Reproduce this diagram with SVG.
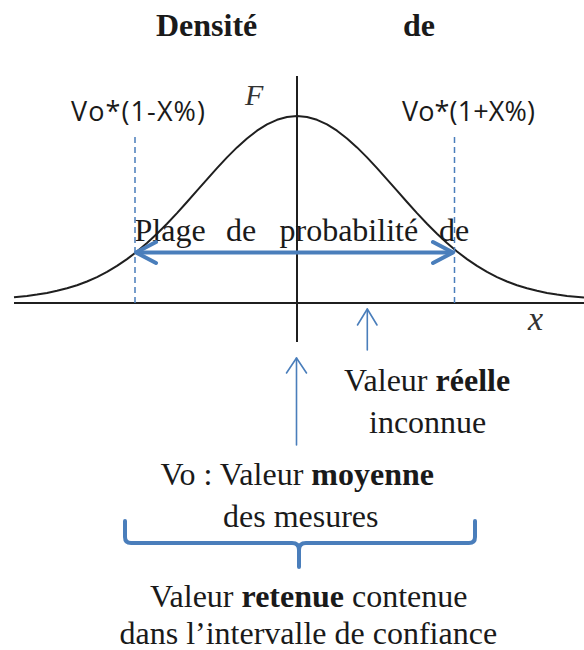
<svg xmlns="http://www.w3.org/2000/svg" width="584" height="650" viewBox="0 0 584 650">
<style>
.serif{font-family:"Liberation Serif","Times New Roman",serif;font-size:32px;fill:#1a1a1a}
.b{font-weight:bold}
.sans{font-family:"Open Sans","Liberation Sans",sans-serif;font-size:27px;fill:#1a1a1a}
.ax{stroke:#1f1f1f;stroke-width:2;fill:none}
.blue{stroke:#4a7ebb;fill:none;stroke-linecap:round;stroke-linejoin:round}
.dash{stroke:#4a7ebb;stroke-width:1.5;stroke-dasharray:6 4;fill:none}
</style>
<rect width="584" height="650" fill="#ffffff"/>
<g id="title">
<text class="serif b" x="156" y="36">Densité</text>
<text class="serif b" x="403" y="36">de</text>
</g>
<g id="graph">
<line class="ax" x1="14" y1="303" x2="584" y2="303"/>
<line class="ax" x1="297" y1="76" x2="297" y2="342"/>
<polyline class="ax" stroke-linejoin="round" points="14,297.2 27,295.9 37,294.6 47,292.9 57,290.8 67,288.3 77,285.2 87,281.5 97,277.1 107,271.9 117,265.9 127,259.1 137,251.5 147,243.0 157,233.7 167,223.7 177,213.1 187,202.0 197,190.7 207,179.3 217,168.1 227,157.4 237,147.4 247,138.5 257,130.7 267,124.4 277,119.8 287,116.96 297,116 307,116.96 317,119.8 327,124.4 337,130.7 347,138.5 357,147.4 367,157.4 377,168.1 387,179.3 397,190.7 407,202.0 417,213.1 427,223.7 437,233.7 447,243.0 457,251.5 467,259.1 477,265.9 487,271.9 497,277.1 507,281.5 517,285.2 527,288.3 537,290.8 547,292.9 557,294.6 567,295.9 584,297.5"/>
<text x="245" y="105" font-family="Liberation Serif,serif" font-style="italic" font-size="30" fill="#333">F</text>
<text x="528" y="330" font-family="Liberation Serif,serif" font-style="italic" font-size="34" fill="#333">x</text>
</g>
<g id="label-low">
<text class="sans" x="71" y="121" textLength="134" lengthAdjust="spacing">Vo*(1-X%)</text>
</g>
<g id="label-high">
<text class="sans" x="402" y="121" textLength="133" lengthAdjust="spacing">Vo*(1+X%)</text>
</g>
<g id="range-label">
<text class="serif" y="241"><tspan x="134.5">Plage</tspan><tspan x="226">de</tspan><tspan x="279.5">probabilité</tspan><tspan x="439">de</tspan></text>
</g>
<g id="real-value">
<text class="serif" x="344" y="391">Valeur <tspan class="b">réelle</tspan></text>
<text class="serif" x="369" y="433">inconnue</text>
</g>
<g id="mean-value">
<text class="serif" x="160.5" y="485">Vo : Valeur <tspan class="b">moyenne</tspan></text>
<text class="serif" x="223" y="527">des mesures</text>
</g>
<g id="retained-value">
<text class="serif" x="150" y="607">Valeur <tspan class="b">retenue</tspan> contenue</text>
<text class="serif" x="119.5" y="644">dans l’intervalle de confiance</text>
</g>
<g id="connectors">
<line class="dash" x1="135" y1="137" x2="135" y2="303"/>
<line class="dash" x1="454.5" y1="137" x2="454.5" y2="303"/>
<g class="blue" stroke-width="4">
<line x1="137" y1="252.5" x2="452" y2="252.5"/>
<polyline points="156,242 136,252.5 156,263"/>
<polyline points="433,242 453,252.5 433,263"/>
</g>
<g class="blue" stroke-width="1.6">
<line x1="367.3" y1="309" x2="367.3" y2="350"/>
<polyline points="357.5,325 367.3,309 377,325"/>
<line x1="296.5" y1="358" x2="296.5" y2="445"/>
<polyline points="286.5,373 296.5,358 306.5,373"/>
</g>
<path class="blue" stroke-width="4" d="M125,521 V537 Q125,543 131,543 H292 Q299,543 299,550 V567 M299,550 Q299,543 306,543 H469 Q475,543 475,537 V521"/>
</g>
</svg>
